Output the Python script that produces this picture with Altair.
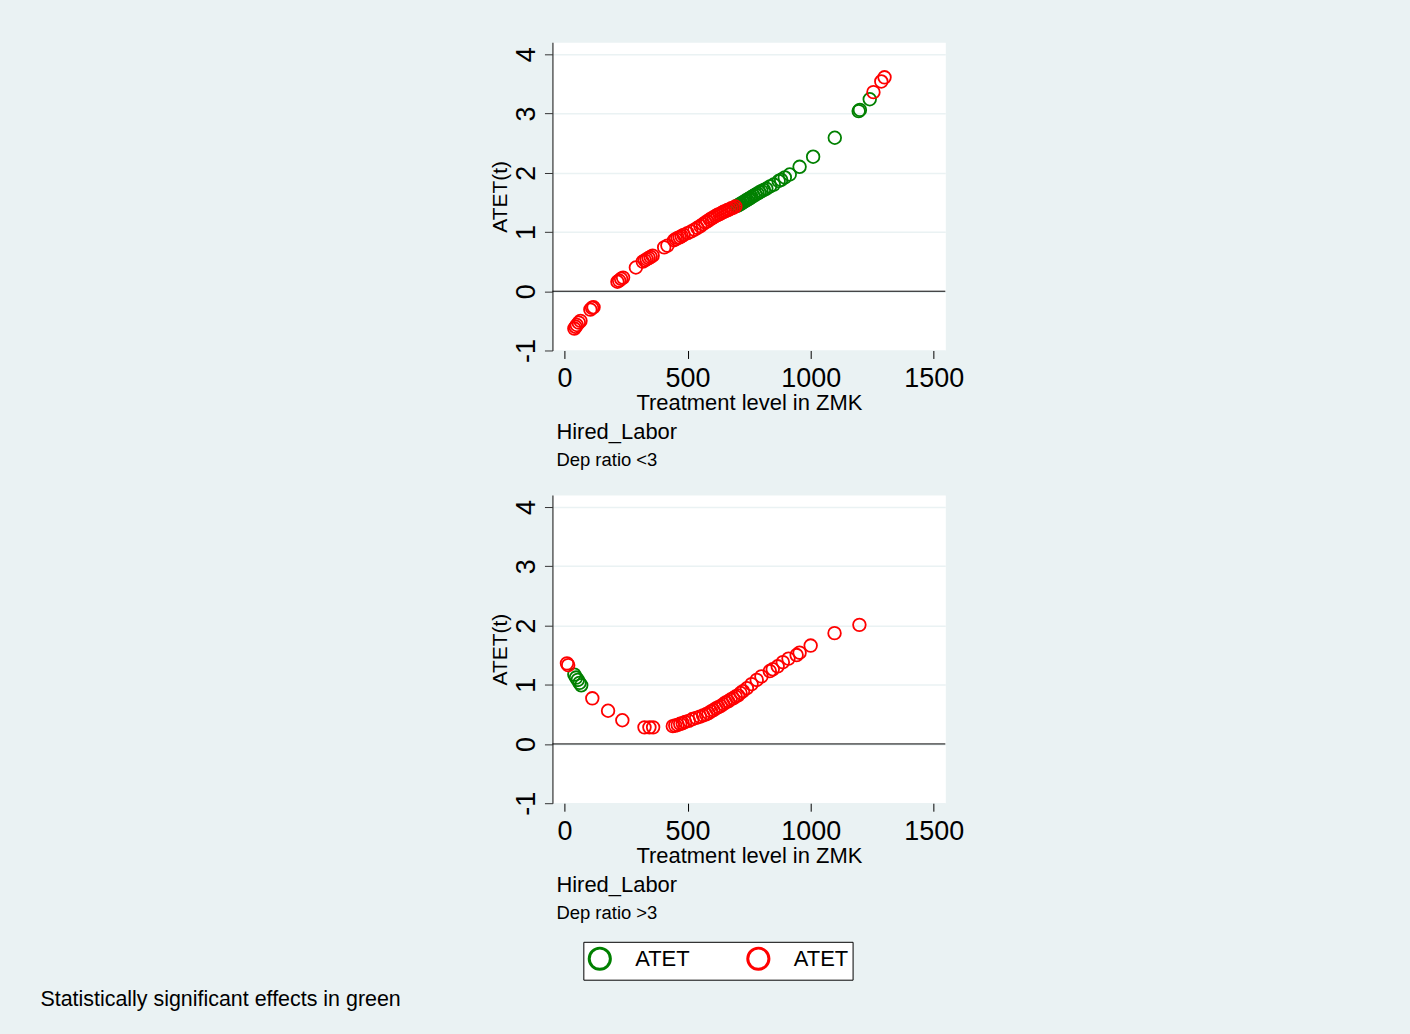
import altair as alt
import pandas as pd

# ---- data ----
top_red_x = [40, 45, 50, 58, 65, 105, 112, 118, 215, 222, 230, 238, 290, 318, 326, 334, 342, 350, 358,
             405, 418, 445, 452, 460, 468, 476, 484, 500, 515, 528, 540, 552, 562, 572, 580, 590, 598,
             606, 614, 622, 630, 638, 646, 654, 662, 670, 678, 686, 694, 1255, 1287, 1300]
top_red_y = [-0.63, -0.60, -0.57, -0.53, -0.50, -0.31, -0.28, -0.27, 0.16, 0.18, 0.21, 0.23, 0.40, 0.50,
             0.52, 0.54, 0.56, 0.58, 0.60, 0.74, 0.77, 0.86, 0.88, 0.90, 0.91, 0.93, 0.95, 0.98, 1.01,
             1.04, 1.07, 1.10, 1.13, 1.16, 1.18, 1.21, 1.23, 1.25, 1.27, 1.29, 1.30, 1.32, 1.34, 1.35,
             1.37, 1.38, 1.40, 1.41, 1.43, 3.36, 3.54, 3.61]
top_green_x = [700, 706, 712, 718, 724, 730, 736, 742, 748, 754, 760, 768, 776, 784, 792, 800, 810, 820,
               835, 850, 870, 880, 895, 915, 955, 1010, 1098, 1195, 1200, 1240]
top_green_y = [1.44, 1.45, 1.47, 1.48, 1.50, 1.51, 1.53, 1.54, 1.56, 1.57, 1.59, 1.61, 1.63, 1.65, 1.67,
               1.69, 1.71, 1.73, 1.77, 1.80, 1.86, 1.88, 1.92, 1.97, 2.10, 2.27, 2.59, 3.04, 3.06, 3.24]

bot_red_x = [10, 15, 113, 177, 235, 325, 345, 360, 440, 450, 460, 470, 480, 490, 505, 520, 535, 550,
             563, 575, 585, 595, 605, 615, 625, 635, 645, 655, 665, 675, 685, 695, 705, 715, 725, 741,
             760, 781, 800, 834, 846, 866, 887, 910, 943, 955, 1000, 1097, 1198]
bot_red_y = [1.36, 1.33, 0.77, 0.56, 0.40, 0.28, 0.28, 0.28, 0.30, 0.31, 0.32, 0.34, 0.35, 0.37, 0.39,
             0.42, 0.44, 0.46, 0.48, 0.50, 0.52, 0.55, 0.57, 0.60, 0.62, 0.64, 0.67, 0.70, 0.72, 0.75,
             0.77, 0.80, 0.82, 0.86, 0.89, 0.94, 1.01, 1.08, 1.14, 1.23, 1.26, 1.31, 1.38, 1.44, 1.50,
             1.54, 1.66, 1.87, 2.01]
bot_green_x = [40, 47, 54, 61, 68]
bot_green_y = [1.17, 1.12, 1.08, 1.03, 0.99]

x_ticks = [0, 500, 1000, 1500]
y_ticks = [-1, 0, 1, 2, 3, 4]
sig_labels = ["sig", "nonsig"]
sig_colors = ["#008000", "#ff0000"]

BG = "#eaf2f3"
FONT = "Liberation Sans"


def frame(xs, ys, sig):
    return pd.DataFrame({"x": xs, "y": ys, "sig": sig})


top_df = pd.concat([frame(top_green_x, top_green_y, "sig"), frame(top_red_x, top_red_y, "nonsig")])
bot_df = pd.concat([frame(bot_green_x, bot_green_y, "sig"), frame(bot_red_x, bot_red_y, "nonsig")])


def panel(df, subtitle):
    zero = alt.Chart(pd.DataFrame({"z": [0]})).mark_rule(color="black", strokeWidth=1).encode(
        y=alt.Y("z:Q", scale=alt.Scale(domain=[-1, 4.2], nice=False, zero=False))
    )
    pts = alt.Chart(df).mark_point(filled=False, size=160, strokeWidth=1.8, opacity=1).encode(
        x=alt.X("x:Q", scale=alt.Scale(domain=[-49, 1547], nice=False, zero=False),
                axis=alt.Axis(values=x_ticks, labelExpr="'' + datum.value",
                              title="Treatment level in ZMK", domain=False,
                              grid=False, tickSize=8, tickColor="black", labelFontSize=27,
                              labelColor="black", titleFontSize=22, titleFontWeight="normal",
                              titleColor="black", labelPadding=7, titlePadding=1, labelFlush=False)),
        y=alt.Y("y:Q", scale=alt.Scale(domain=[-1, 4.2], nice=False, zero=False),
                axis=alt.Axis(values=y_ticks, labelExpr="'' + datum.value", title="ATET(t)",
                              labelAngle=270,
                              labelFontSize=27, labelColor="black", tickSize=8, tickColor="#333",
                              domain=True, domainColor="#333", domainWidth=1.2, grid=True,
                              gridColor=BG, gridWidth=1.5, titleFontSize=21,
                              titleFontWeight="normal", titleColor="black", labelPadding=4,
                              titlePadding=2, labelFlush=False)),
        color=alt.Color("sig:N", scale=alt.Scale(domain=sig_labels, range=sig_colors),
                        legend=alt.Legend(title=None, labelExpr="'ATET'", orient="none",
                                          direction="horizontal", legendX=31, legendY=902,
                                          symbolSize=450, symbolStrokeWidth=3, labelFontSize=22,
                                          labelColor="black", strokeColor="black", fillColor="white",
                                          padding=4, columnPadding=51, labelOffset=23)),
    )
    return alt.layer(pts, zero).properties(
        width=394, height=309,
        title=alt.TitleParams(text="Hired_Labor", subtitle=subtitle, orient="bottom", anchor="start",
                              frame="group", fontSize=22, subtitleFontSize=18.5, fontWeight="normal",
                              color="black", subtitleColor="black", offset=9, subtitlePadding=7,
                              dx=4),
    )


chart = alt.vconcat(panel(top_df, "Dep ratio <3"), panel(bot_df, "Dep ratio >3"), spacing=24).properties(
    background=BG,
    padding={"top": 40, "left": 40, "right": 447, "bottom": 30},
    title=alt.TitleParams(text="Statistically significant effects in green", orient="bottom",
                          anchor="start", fontSize=21.5, fontWeight="normal", color="black", dx=-450,
                          offset=9),
).configure(font=FONT).configure_view(fill="white", stroke="transparent")

chart.save("out.html", embed_options={"renderer": "svg", "actions": False})
